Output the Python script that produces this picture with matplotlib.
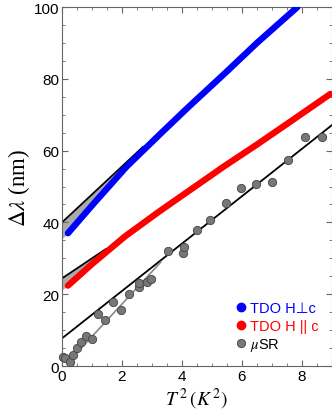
import matplotlib
matplotlib.use("Agg")
import matplotlib.pyplot as plt
import numpy as np
from matplotlib.ticker import MultipleLocator

# TDO H perp c
perp_t2 = [0.2, 1.04, 2.16, 3.27, 4.21, 5.4, 6.5, 7.85]
perp_dl = [37.0, 45.1, 55.6, 64.6, 72.1, 81.3, 90.0, 100.0]

# TDO H parallel c
par_t2 = [0.2, 1.0, 2.1, 3.2, 4.3, 5.4, 6.5, 7.6, 8.95]
par_dl = [22.4, 28.4, 36.1, 42.8, 49.2, 55.6, 61.7, 68.0, 75.8]

# muSR points
musr_t2 = [0.02, 0.10, 0.27, 0.36, 0.49, 0.63, 0.80, 1.00, 1.20, 1.44, 1.69,
           1.96, 2.24, 2.56, 2.58, 2.84, 2.96, 3.54, 4.04, 4.08, 4.49, 4.93,
           5.47, 5.97, 6.48, 7.00, 7.52, 8.09, 8.67]
musr_dl = [2.5, 2.3, 1.2, 3.1, 5.1, 6.6, 8.3, 7.6, 14.4, 12.7, 17.8,
           15.6, 20.2, 21.9, 23.1, 23.3, 24.3, 32.0, 31.4, 33.2, 37.8, 40.6,
           45.4, 49.6, 50.6, 51.4, 57.3, 63.9, 63.9]

# linear fits (intercept, slope, x range)
perp_fit = (40.0, 7.8, 0.0, 2.7)
par_fit = (24.4, 5.6, 0.0, 1.45)
musr_fit = (7.7, 6.6, 0.0, 9.0)
musr_low = [(0.2, 1.0), (3.3, 29.0)]

# extrapolated data edge at T=0 for shading
perp_zero = 35.5
par_zero = 21.2

plt.rcParams["font.family"] = ["Liberation Sans", "DejaVu Sans"]
plt.rcParams["mathtext.fontset"] = "stix"

fig = plt.figure(figsize=(3.32, 4.14), dpi=100)
ax = fig.add_axes([0.1867, 0.1135, 0.813, 0.867])


def fit_line(fit):
    b, m, x0, x1 = fit
    xs = np.array([x0, x1])
    return xs, b + m * xs


# shaded regions between fits and data at low T
for fit, zero, tx, ty in [(perp_fit, perp_zero, perp_t2, perp_dl),
                          (par_fit, par_zero, par_t2, par_dl)]:
    b, m, x0, x1 = fit
    xs = [0.0] + [x for x in tx if x < x1] + [x1]
    lower = np.interp(xs, [0.0] + tx, [zero] + ty)
    upper = b + m * np.array(xs)
    ax.fill_between(xs, lower, upper, color="#aaaaaa", lw=0, zorder=1)

for fit in [perp_fit, par_fit, musr_fit]:
    xs, ys = fit_line(fit)
    ax.plot(xs, ys, color="black", lw=1.3, zorder=2)

ax.plot([p[0] for p in musr_low], [p[1] for p in musr_low],
        color="#888888", lw=1.2, zorder=2)

ax.plot(perp_t2, perp_dl, color="#0000ff", lw=4.6, solid_capstyle="round",
        solid_joinstyle="round", zorder=3)
ax.plot(par_t2, par_dl, color="#ff0000", lw=4.6, solid_capstyle="round",
        solid_joinstyle="round", zorder=3)
ax.plot(musr_t2, musr_dl, "o", color="#777777", mec="#444444", mew=0.6,
        ms=6, zorder=4, clip_on=False)

# legend entries
h1, = ax.plot([], [], "o", color="#0000ff", ms=6)
h2, = ax.plot([], [], "o", color="#ff0000", ms=6)
h3, = ax.plot([], [], "o", color="#777777", mec="#444444", mew=0.6, ms=6)
leg = ax.legend([h1, h2, h3],
                ["TDO H\u22a5c", "TDO H || c", "$\\mathit{\\mu}$SR"],
                loc="lower right", bbox_to_anchor=(1.0, 0.0),
                frameon=False, fontsize=10.5, handlelength=0.6,
                handletextpad=0.35, labelspacing=0.22)
for txt, c in zip(leg.get_texts(), ["#0000ff", "#ff0000", "black"]):
    txt.set_color(c)

ax.set_xlim(0, 9)
ax.set_ylim(0, 100)
ax.xaxis.set_major_locator(MultipleLocator(2))
ax.xaxis.set_minor_locator(MultipleLocator(0.5))
ax.yaxis.set_major_locator(MultipleLocator(20))
ax.yaxis.set_minor_locator(MultipleLocator(5))
ax.tick_params(which="both", direction="in", top=True, right=True,
               color="#666666", labelsize=11, pad=2)
ax.tick_params(which="major", length=4)
ax.tick_params(which="minor", length=2)
for s in ax.spines.values():
    s.set_color("#666666")

ax.set_ylabel("$\\Delta\\lambda$ (nm)", family="Liberation Serif",
              fontsize=16.5, labelpad=1)
ax.set_xlabel("$T^{\\,2}\\,(K^{\\,2})$", fontsize=14, labelpad=2)

fig.savefig("out.png", dpi=100)
